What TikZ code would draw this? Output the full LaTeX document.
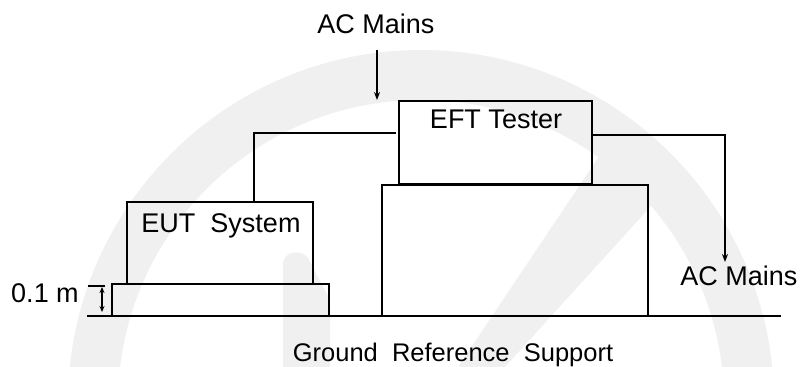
\documentclass[tikz,border=0pt]{standalone}
\usepackage{fontspec}
\setmainfont{Liberation Sans}
\usetikzlibrary{arrows.meta,calc}
\begin{document}
\begin{tikzpicture}[x=1pt,y=-1pt,
  box/.style={draw, line width=1.9pt, inner sep=0pt, outer sep=0pt, anchor=north west},
  lbl/.style={font=\fontsize{27}{30}\selectfont, inner sep=0pt, anchor=base},
  wire/.style={line width=1.9pt},
  tip/.style={-{Stealth[length=8pt,width=6pt]}}]
\useasboundingbox (0,0) rectangle (804,367);
% faint watermark
\fill[black!6, even odd rule] (421,403) circle (353) (421,403) circle (303);
\fill[black!6] (283,367) -- (283,264) .. controls (283,252) and (300,248) .. (308,258) -- (330,300) -- (330,367) -- cycle;
\fill[black!6] (610,140) -- (652,205) -- (505,367) -- (458,367) -- cycle;
% ground
\coordinate (g1) at (87,316);
\coordinate (g2) at (781,316);
\draw[line width=2pt] (g1) -- (g2);
% supports and boxes
\node[box, minimum width=266, minimum height=131] (support) at (382,185) {};
\node[box, minimum width=217, minimum height=32] (platform) at (112,284) {};
\node[box, minimum width=193, minimum height=83] (eft) at (399,101) {};
\node[box, minimum width=186, minimum height=82] (eut) at (127,202) {};
% labels
\node[lbl] (acTop) at (376,33) {AC Mains};
\node[lbl] (eftLbl) at (496,128) {EFT Tester};
\node[lbl] (eutLbl) at (221,232) {EUT\ \ System};
\node[lbl] (acRight) at (739,285) {AC Mains};
\node[lbl] (dimLbl) at (45,302) {0.1 m};
\node[lbl, font=\fontsize{25.5}{30}\selectfont] (gndLbl) at (453,361) {Ground\ \ Reference\ \ Support};
% AC mains in
\coordinate (a1) at (377,50);
\coordinate (a2) at (377,100);
\draw[wire, tip] (a1) -- (a2);
% EFT to EUT
\coordinate (l1) at ($(eft.north west)+(-3,32)$);
\draw[wire] (l1) -| ($(eut.north west)+(127,0)$);
% EFT to AC mains out
\coordinate (r2) at (725,262);
\draw[wire, line width=2.6pt, tip] ($(eft.north east)+(0,34)$) -| (r2);
% height dimension
\coordinate (d1) at (88,286);
\coordinate (d2) at (105,286);
\draw[line width=1.6pt] (d1) -- (d2);
\coordinate (d3) at (102,287);
\coordinate (d4) at (102,312);
\draw[line width=1.6pt, {Stealth[length=6pt,width=5pt]}-{Stealth[length=6pt,width=5pt]}] (d3) -- (d4);
\end{tikzpicture}
\end{document}
